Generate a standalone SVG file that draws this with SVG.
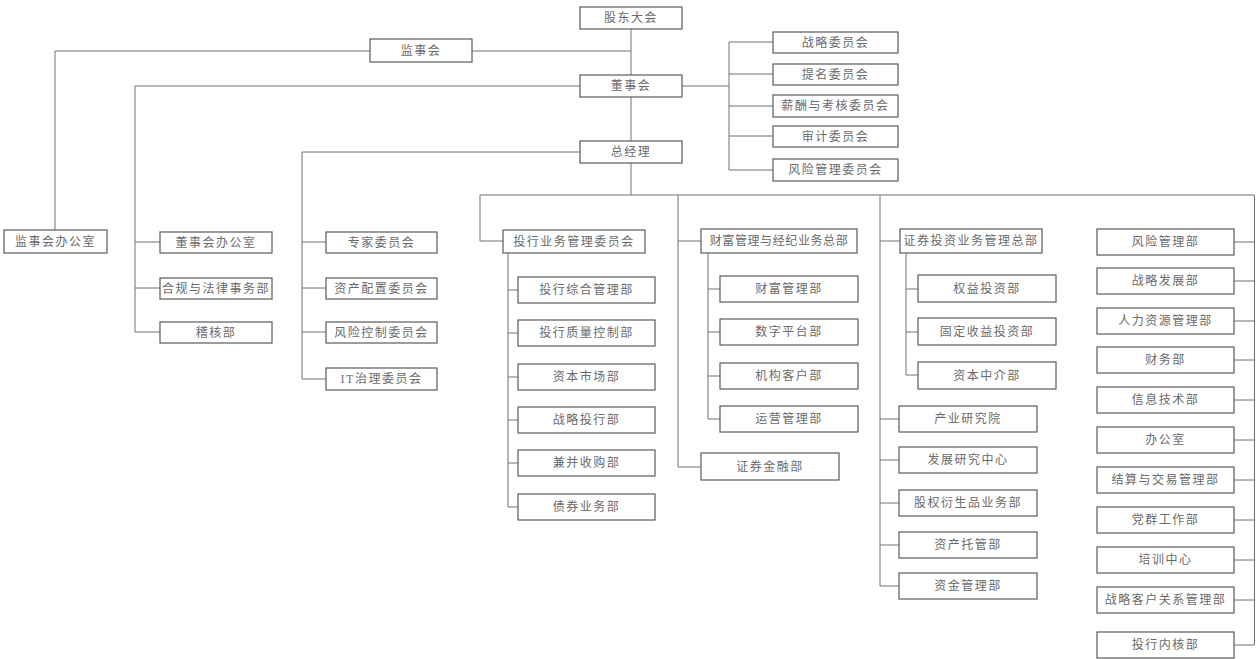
<svg xmlns="http://www.w3.org/2000/svg" width="1256" height="659" viewBox="0 0 1256 659">
<style>
.b rect{fill:#fff;stroke:#5a5a5a;stroke-width:1.2}
.b text{font-family:"Liberation Serif","Noto Sans CJK SC",serif;font-size:12px;fill:#6a6a6a;text-anchor:middle;dominant-baseline:central;letter-spacing:1.5px}
#conn path{fill:none;stroke:#707070;stroke-width:1}
</style>
<rect width="1256" height="659" fill="#fff"/>
<g id="conn">
<path d="M631 29V75M631 97V141M631 163V195"/>
<path d="M472 51H631M370 51H55V230"/>
<path d="M580 86H135V332M135 242H160M135 288H160M135 332H160"/>
<path d="M682 86H729M729 42V170M729 42H773M729 74H773M729 106H773M729 136H773M729 170H773"/>
<path d="M580 152H302V379M302 242H326M302 288H326M302 332H326M302 379H326"/>
<path d="M480 195H1254.5"/>
<path d="M480 195V241H503M508 253V507M508 290H518M508 333H518M508 377H518M508 420H518M508 463H518M508 507H518"/>
<path d="M678 195V467H701M678 241H701M708 253V419M708 289H720M708 332H720M708 376H720M708 419H720"/>
<path d="M880 195V586M880 241H900M880 419H899M880 460H899M880 503H899M880 545H899M880 586H899M906 253V375M906 289H918M906 332H918M906 375H918"/>
<path d="M1254.5 195V645M1234 242H1254.5M1234 281H1254.5M1234 321H1254.5M1234 360H1254.5M1234 400H1254.5M1234 440H1254.5M1234 480H1254.5M1234 520H1254.5M1234 560H1254.5M1234 600H1254.5M1234 645H1254.5"/>
</g>
<g class="b">
<g id="n_gudong"><rect x="580" y="7" width="102" height="22"/><text x="631" y="18">股东大会</text></g>
<g id="n_jianshihui"><rect x="370" y="39" width="102" height="23"/><text x="421" y="50.5">监事会</text></g>
<g id="n_dongshihui"><rect x="580" y="75" width="102" height="22"/><text x="631" y="86">董事会</text></g>
<g id="n_zongjingli"><rect x="580" y="141" width="102" height="22"/><text x="631" y="152">总经理</text></g>
<g id="n_zhanlue_wyh"><rect x="773" y="32" width="125" height="21"/><text x="835.5" y="42.5">战略委员会</text></g>
<g id="n_timing"><rect x="773" y="64" width="125" height="21"/><text x="835.5" y="74.5">提名委员会</text></g>
<g id="n_xinchou"><rect x="773" y="95" width="125" height="22"/><text x="835.5" y="106">薪酬与考核委员会</text></g>
<g id="n_shenji"><rect x="773" y="126" width="125" height="21"/><text x="835.5" y="136.5">审计委员会</text></g>
<g id="n_fengxian_wyh"><rect x="773" y="159" width="125" height="22"/><text x="835.5" y="170">风险管理委员会</text></g>
<g id="n_jsh_office"><rect x="4" y="230" width="103" height="23"/><text x="55.5" y="241.5">监事会办公室</text></g>
<g id="n_dsh_office"><rect x="160" y="232" width="112" height="21"/><text x="216" y="242.5">董事会办公室</text></g>
<g id="n_hegui"><rect x="160" y="278" width="112" height="21"/><text x="216" y="288.5">合规与法律事务部</text></g>
<g id="n_jihe"><rect x="160" y="322" width="112" height="21"/><text x="216" y="332.5">稽核部</text></g>
<g id="n_zhuanjia"><rect x="326" y="232" width="111" height="21"/><text x="381.5" y="242.5">专家委员会</text></g>
<g id="n_zichanpeizhi"><rect x="326" y="278" width="111" height="21"/><text x="381.5" y="288.5">资产配置委员会</text></g>
<g id="n_fengxiankongzhi"><rect x="326" y="322" width="111" height="21"/><text x="381.5" y="332.5">风险控制委员会</text></g>
<g id="n_itzhili"><rect x="326" y="368" width="111" height="22"/><text x="381.5" y="379">IT治理委员会</text></g>
<g id="n_touhang_wyh"><rect x="503" y="230" width="142" height="23"/><text x="574" y="241.5">投行业务管理委员会</text></g>
<g id="n_th1"><rect x="518" y="277" width="137" height="26"/><text x="586.5" y="290">投行综合管理部</text></g>
<g id="n_th2"><rect x="518" y="320" width="137" height="26"/><text x="586.5" y="333">投行质量控制部</text></g>
<g id="n_th3"><rect x="518" y="364" width="137" height="26"/><text x="586.5" y="377">资本市场部</text></g>
<g id="n_th4"><rect x="518" y="407" width="137" height="26"/><text x="586.5" y="420">战略投行部</text></g>
<g id="n_th5"><rect x="518" y="450" width="137" height="26"/><text x="586.5" y="463">兼并收购部</text></g>
<g id="n_th6"><rect x="518" y="494" width="137" height="26"/><text x="586.5" y="507">债券业务部</text></g>
<g id="n_caifu_zb"><rect x="701" y="229" width="156" height="24"/><text x="779" y="241" style="letter-spacing:0.6px">财富管理与经纪业务总部</text></g>
<g id="n_cf1"><rect x="720" y="276" width="138" height="26"/><text x="789" y="289">财富管理部</text></g>
<g id="n_cf2"><rect x="720" y="319" width="138" height="26"/><text x="789" y="332">数字平台部</text></g>
<g id="n_cf3"><rect x="720" y="363" width="138" height="26"/><text x="789" y="376">机构客户部</text></g>
<g id="n_cf4"><rect x="720" y="406" width="138" height="26"/><text x="789" y="419">运营管理部</text></g>
<g id="n_zqjr"><rect x="701" y="453" width="138" height="27"/><text x="770" y="466.5">证券金融部</text></g>
<g id="n_zqtz_zb"><rect x="900" y="229" width="142" height="24"/><text x="971" y="241">证券投资业务管理总部</text></g>
<g id="n_zt1"><rect x="918" y="275" width="138" height="27"/><text x="987" y="288.5">权益投资部</text></g>
<g id="n_zt2"><rect x="918" y="318" width="138" height="27"/><text x="987" y="331.5">固定收益投资部</text></g>
<g id="n_zt3"><rect x="918" y="362" width="138" height="27"/><text x="987" y="375.5">资本中介部</text></g>
<g id="n_cyyjy"><rect x="899" y="406" width="138" height="26"/><text x="968" y="419">产业研究院</text></g>
<g id="n_fzyjzx"><rect x="899" y="447" width="138" height="26"/><text x="968" y="460">发展研究中心</text></g>
<g id="n_gqys"><rect x="899" y="490" width="138" height="26"/><text x="968" y="503">股权衍生品业务部</text></g>
<g id="n_zctg"><rect x="899" y="532" width="138" height="26"/><text x="968" y="545">资产托管部</text></g>
<g id="n_zjgl"><rect x="899" y="573" width="138" height="26"/><text x="968" y="586">资金管理部</text></g>
<g id="n_r1"><rect x="1097" y="229" width="137" height="26"/><text x="1165.5" y="242">风险管理部</text></g>
<g id="n_r2"><rect x="1097" y="268" width="137" height="26"/><text x="1165.5" y="281">战略发展部</text></g>
<g id="n_r3"><rect x="1097" y="308" width="137" height="26"/><text x="1165.5" y="321">人力资源管理部</text></g>
<g id="n_r4"><rect x="1097" y="347" width="137" height="26"/><text x="1165.5" y="360">财务部</text></g>
<g id="n_r5"><rect x="1097" y="387" width="137" height="26"/><text x="1165.5" y="400">信息技术部</text></g>
<g id="n_r6"><rect x="1097" y="427" width="137" height="26"/><text x="1165.5" y="440">办公室</text></g>
<g id="n_r7"><rect x="1097" y="467" width="137" height="26"/><text x="1165.5" y="480">结算与交易管理部</text></g>
<g id="n_r8"><rect x="1097" y="507" width="137" height="26"/><text x="1165.5" y="520">党群工作部</text></g>
<g id="n_r9"><rect x="1097" y="547" width="137" height="26"/><text x="1165.5" y="560">培训中心</text></g>
<g id="n_r10"><rect x="1097" y="587" width="137" height="26"/><text x="1165.5" y="600">战略客户关系管理部</text></g>
<g id="n_r11"><rect x="1097" y="632" width="137" height="26"/><text x="1165.5" y="645">投行内核部</text></g>
</g>
</svg>
